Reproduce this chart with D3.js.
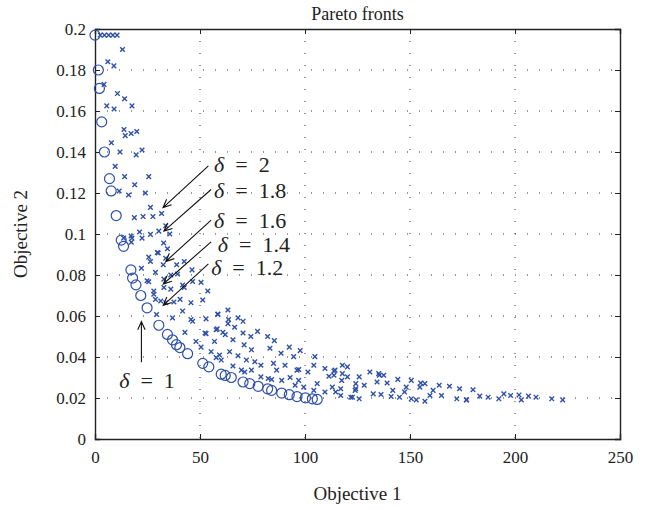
<!DOCTYPE html>
<html>
<head>
<meta charset="utf-8">
<script src="https://cdn.jsdelivr.net/npm/d3@7"></script>
<style>
  body { margin: 0; background: #fff; }
  text { font-family: "Liberation Serif", "DejaVu Serif", serif; fill: #222; }
</style>
</head>
<body>
<div id="chart"></div>
<script>
// ticks
var xTicks = [0, 50, 100, 150, 200, 250]
var yTicks = [0, 0.02, 0.04, 0.06, 0.08, 0.1, 0.12, 0.14, 0.16, 0.18, 0.2]

// delta = 1 front (circles), [objective1, objective2]
var delta1 = [[0,0.197],[1.6,0.180],[2.1,0.171],[3.2,0.1547],[4.5,0.140],[6.9,0.127],[7.7,0.121],
  [10.1,0.109],[12.5,0.097],[13.6,0.094],[17.1,0.0825],[17.9,0.0785],[19.5,0.0752],[21.8,0.070],
  [24.8,0.064],[30.4,0.0555],[34.5,0.051],[36.9,0.0484],[38.8,0.046],[40.4,0.0446],[44.1,0.0416],
  [51.3,0.0369],[54.2,0.0352],[60.1,0.0316],[62,0.031],[64.9,0.030],[70.5,0.0278],[73.7,0.027],
  [77.7,0.0257],[82.2,0.0245],[84.1,0.0237],[88.9,0.0224],[92.5,0.0216],[96.2,0.0207],
  [100.2,0.0201],[103.5,0.0196],[105.8,0.0193]]

// delta = 1.2 ... 2 fronts (all drawn with the same cross marker)
var deltaOthers = [[2.5,0.197],[4.5,0.197],[6.5,0.197],[8.5,0.197],[10.5,0.197],
  [13.1,0.190],[6.1,0.184],[9.0,0.182],[4.3,0.173],[10.7,0.1685],[14.1,0.166],[5.6,0.1625],[9.1,0.161],
  [17.6,0.1625],[13.8,0.151],[14.4,0.148],[17.2,0.149],[19.9,0.150],[7.8,0.1445],[11.9,0.140],[19.6,0.1386],
  [22.4,0.141],[9.6,0.133],[14.1,0.128],[18.9,0.124],[25.6,0.128],[11.5,0.121],[16.0,0.119],[24.0,0.120],
  [26.4,0.113],[18.75,0.108],[22.9,0.1085],[27.6,0.1085],[31.7,0.110],
  [13.6,0.098],[17.2,0.099],[21.2,0.101],[22.4,0.098],[26.4,0.0998],[30.4,0.1014],[33.7,0.104],[35.6,0.100],
  [32.7,0.0956],[29.7,0.091],[25.6,0.0887],[34.5,0.0928],[26.4,0.0866],[30.1,0.0907],[32.5,0.085],
  [38.9,0.085],[42.5,0.0866],[46.2,0.0825],[22.1,0.0833],[36.1,0.080],[17.6,0.098],[17.3,0.096],
  [33.7,0.0882],[28.8,0.0813],[24.8,0.0772],[32.8,0.078],[39.3,0.0805],[28.0,0.0722],[32.8,0.0739],
  [36.1,0.0731],[42.5,0.0739],[50.5,0.0764],[53.7,0.0722],[28.8,0.0681],[33.7,0.0665],[40.5,0.0681],
  [45.7,0.0665],[51.3,0.0678],[29.3,0.0607],[36.9,0.0591],[45.7,0.0583],[52.9,0.0586],[58.5,0.0607],
  [63.3,0.0629],[63.6,0.0583],[68.1,0.0591],
  [41.7,0.0751],[46.5,0.0768],[25.6,0.0767],[28.0,0.0706],[31.3,0.0673],[37.6,0.0668],[41.7,0.0624],
  [46.5,0.0574],[42.8,0.052],[48.1,0.0476],[50.5,0.0448],[52.9,0.0514],[56.9,0.0476],[57.7,0.0533],
  [55.3,0.0426],[57.7,0.0397],
  [58.5,0.061],[70.5,0.0574],[63.3,0.0563],[66.5,0.0545],[58.2,0.0537],[60.9,0.052],[62,0.0509],
  [52.4,0.0517],[70.5,0.0517],[74.2,0.05],[77.4,0.0525],[82.2,0.05],[85.4,0.048],[65.7,0.0484],
  [71,0.0459],[74.5,0.0435],[83.3,0.0443],[92.5,0.0448],[88.6,0.0418],[94.6,0.0402],[59.3,0.041],
  [64.1,0.0426],[68.1,0.0406],[60.1,0.0385],[72.1,0.0385],[76.1,0.0377],[79,0.036],[85,0.0369],
  [86.5,0.0336],[90.5,0.036],[96.2,0.0336],[65.7,0.0356],[69.7,0.0336],[71.3,0.0327],[74.5,0.0336],
  [79,0.0303],[82.5,0.0295],[84.1,0.029],[88.9,0.0286],[92.9,0.030],[97,0.0286],
  [97.7,0.0431],[104.7,0.0402],[97,0.0339],[101.4,0.0327],[104.2,0.036],[109.5,0.0344],[113.8,0.0332],
  [117.8,0.036],[120.2,0.0352],[117.8,0.0319],[120.2,0.0303],[117.5,0.0286],[95.3,0.0262],[99.4,0.0253],
  [105.8,0.027],[111.4,0.0306],[113,0.0253],[114.6,0.0229],[109.5,0.0229],[104.2,0.0237],[117,0.0245],
  [121.8,0.0204],[125.8,0.0196],[123.9,0.0237],[125.8,0.0303],[128.2,0.0262],[130.9,0.0327],[132.5,0.022],
  [135.4,0.0311],[136.2,0.0217],
  [135.1,0.0319],[137.5,0.0311],[144.2,0.0291],[150.6,0.0286],[155.1,0.0273],[157.1,0.027],[163.9,0.0262],
  [168.8,0.0257],[173.6,0.0245],[139.1,0.0273],[134.3,0.0278],[141.8,0.0237],[147.4,0.0229],[148.2,0.0253],
  [154.7,0.0253],[161,0.0237],[159.5,0.0212],[165,0.0212],[150.6,0.0196],[153,0.0191],[157.1,0.0184],
  [172.3,0.0196],[177,0.0191],[124.2,0.027],[141,0.0207],[145,0.0204],[117,0.0212],[122.6,0.0204],
  [113.8,0.0311],[114.3,0.0336],[124.2,0.0245],
  [180,0.024],[176.8,0.0191],[183.2,0.0209],[187.2,0.0204],[192.3,0.0196],[194.7,0.022],[197.9,0.0212],
  [201.9,0.0215],[203,0.0191],[206.4,0.0209],[210,0.0204],[217.5,0.0196],[222.7,0.0191]]

// annotations: label, text position, arrow tail and arrow head (data units)
var labels = ["2", "1.8", "1.6", "1.4", "1.2", "1"]
var labelPos = [[56.7,0.1338],[56.7,0.1213],[56.7,0.1068],[58.5,0.0950],[55.3,0.0840],[11.5,0.0286]]
var arrowFrom = [[54.0,0.1332],[55.3,0.1217],[55.3,0.1068],[55.3,0.0962],[54.0,0.0854],[22.1,0.0375]]
var arrowTo = [[32.4,0.1129],[32.8,0.1014],[33.7,0.0866],[32.5,0.0756],[32.5,0.0652],[22.1,0.0573]]

var W = 647, H = 509
var margin = {left: 95, right: 27, top: 29, bottom: 70}
var innerW = W - margin.left - margin.right
var innerH = H - margin.top - margin.bottom
var blue = "#2f50a8"

var svg = d3.select("#chart").append("svg")
    .attr("width", W)
    .attr("height", H)

svg.append("rect").attr("width", W).attr("height", H).attr("fill", "#fff")

var g = svg.append("g").attr("transform", "translate(" + margin.left + "," + margin.top + ")")

var x = d3.scaleLinear().domain([0, 250]).range([0, innerW])
var y = d3.scaleLinear().domain([0, 0.2]).range([innerH, 0])

// dotted grid
g.selectAll(".gx").data(xTicks.slice(1, -1)).enter().append("line")
    .attr("x1", d => x(d)).attr("x2", d => x(d))
    .attr("y1", 0).attr("y2", innerH)
    .attr("stroke", "#333").attr("stroke-width", 1)
    .attr("stroke-dasharray", "1,11")
g.selectAll(".gy").data(yTicks.slice(1, -1)).enter().append("line")
    .attr("x1", 0).attr("x2", innerW)
    .attr("y1", d => y(d)).attr("y2", d => y(d))
    .attr("stroke", "#333").attr("stroke-width", 1)
    .attr("stroke-dasharray", "1,11")

var fmt = d => String(+d.toFixed(2))

// axes, ticks inside like matlab
var xAxis = g.append("g").attr("transform", "translate(0," + innerH + ")")
    .call(d3.axisBottom(x).tickValues(xTicks).tickSize(-5).tickPadding(12).tickFormat(fmt))
var yAxis = g.append("g")
    .call(d3.axisLeft(y).tickValues(yTicks).tickSize(-5).tickPadding(9).tickFormat(fmt))
var xTop = g.append("g")
    .call(d3.axisTop(x).tickValues(xTicks).tickSize(-5).tickFormat(""))
var yRight = g.append("g").attr("transform", "translate(" + innerW + ",0)")
    .call(d3.axisRight(y).tickValues(yTicks).tickSize(-5).tickFormat(""))

;[xAxis, yAxis, xTop, yRight].forEach(function (a) {
    a.select(".domain").attr("stroke", "#222").attr("stroke-width", 1.4)
    a.selectAll(".tick line").attr("stroke", "#222").attr("stroke-width", 1)
    a.selectAll("text").attr("font-size", 17).attr("fill", "#222")
        .attr("font-family", "Liberation Serif, serif")
})

// points
g.selectAll(".c").data(delta1).enter().append("circle")
    .attr("cx", d => x(d[0])).attr("cy", d => y(d[1]))
    .attr("r", 5).attr("fill", "none")
    .attr("stroke", blue).attr("stroke-width", 1.2)

var s = 2.3
g.selectAll(".x").data(deltaOthers).enter().append("path")
    .attr("d", function (d) {
        var cx = x(d[0]), cy = y(d[1])
        return "M" + (cx - s) + "," + (cy - s) + "L" + (cx + s) + "," + (cy + s) +
            "M" + (cx - s) + "," + (cy + s) + "L" + (cx + s) + "," + (cy - s)
    })
    .attr("stroke", blue).attr("stroke-width", 1.4).attr("fill", "none")

// arrows
labels.forEach(function (lab, i) {
    var x1 = x(arrowFrom[i][0]), y1 = y(arrowFrom[i][1])
    var x2 = x(arrowTo[i][0]), y2 = y(arrowTo[i][1])
    var ang = Math.atan2(y2 - y1, x2 - x1)
    var len = 9, spread = 0.42
    var path = "M" + x1 + "," + y1 + "L" + x2 + "," + y2 +
        "M" + (x2 - len * Math.cos(ang - spread)) + "," + (y2 - len * Math.sin(ang - spread)) +
        "L" + x2 + "," + y2 +
        "L" + (x2 - len * Math.cos(ang + spread)) + "," + (y2 - len * Math.sin(ang + spread))
    g.append("path").attr("d", path).attr("fill", "none")
        .attr("stroke", "#111").attr("stroke-width", 1.1)

    var t = g.append("text")
        .attr("x", x(labelPos[i][0])).attr("y", y(labelPos[i][1]))
        .attr("dy", "0.35em").attr("font-size", 22).attr("fill", "#111")
    t.append("tspan").attr("font-style", "italic").text("δ")
    t.append("tspan").text("\u2002=\u2002" + lab)
})

// titles
svg.append("text").attr("x", margin.left + innerW / 2).attr("y", 14)
    .attr("dy", "0.35em").attr("text-anchor", "middle").attr("font-size", 18)
    .text("Pareto fronts")
svg.append("text").attr("x", margin.left + innerW / 2).attr("y", 493)
    .attr("dy", "0.35em").attr("text-anchor", "middle").attr("font-size", 19)
    .text("Objective 1")
svg.append("text").attr("transform", "translate(20," + (margin.top + innerH / 2) + ") rotate(-90)")
    .attr("dy", "0.35em").attr("text-anchor", "middle").attr("font-size", 19)
    .text("Objective 2")
</script>
</body>
</html>
